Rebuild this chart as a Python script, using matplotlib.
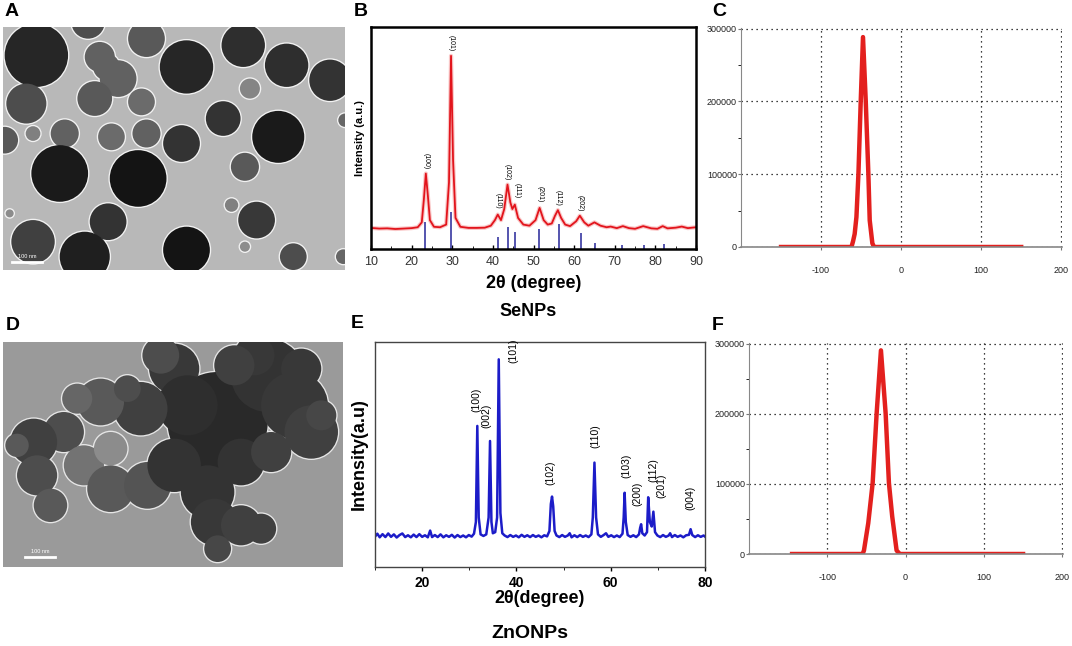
import matplotlib
matplotlib.use("Agg")
import matplotlib.pyplot as plt
from matplotlib.patches import Circle

# ---------------- DATA ----------------
# Panel A (TEM SeNPs): particle centres / radii (image pixel units) and grey level
A_cx = [100, 255, 430, 550, 720, 850, 980, 740, 70, 290, 345, 275, 310, 415, 660, 825, 5, 90, 185,
        325, 430, 535, 170, 405, 725, 315, 685, 760, 90, 245, 550, 870, 1020, 725, 20, 1025]
A_cy = [85, -15, 35, 120, 55, 115, 160, 185, 230, 90, 155, 215, 120, 225, 275, 330, 340, 320, 320,
        330, 320, 350, 440, 455, 420, 585, 535, 580, 645, 690, 670, 690, 690, 660, 560, 280]
A_r = [95, 50, 55, 80, 65, 65, 62, 30, 60, 45, 55, 52, 40, 40, 52, 78, 40, 22, 42,
       40, 42, 55, 85, 85, 42, 55, 20, 55, 65, 75, 70, 40, 22, 15, 12, 20]
A_gray = [0.15, 0.30, 0.35, 0.15, 0.18, 0.18, 0.20, 0.52, 0.30, 0.38, 0.38, 0.35, 0.38, 0.42, 0.20, 0.10, 0.35, 0.50, 0.38,
          0.42, 0.38, 0.20, 0.10, 0.08, 0.35, 0.20, 0.50, 0.22, 0.25, 0.12, 0.08, 0.30, 0.40, 0.55, 0.55, 0.40]

# Panel D (TEM ZnONPs): aggregate grains
D_cx = [642, 792, 872, 922, 512, 472, 552, 412, 292, 222, 182, 92, 42, 102, 142, 242, 322, 322, 432,
        512, 612, 632, 712, 772, 642, 712, 802, 952, 752, 892, 692, 372]
D_cy = [240, 100, 190, 270, 80, 40, 190, 200, 180, 170, 270, 300, 310, 400, 490, 370, 320, 440, 430,
        370, 450, 540, 550, 560, 620, 360, 330, 220, 40, 80, 70, 140]
D_r = [150, 110, 100, 80, 75, 55, 90, 80, 70, 45, 60, 70, 35, 60, 50, 60, 50, 70, 70,
       80, 80, 70, 60, 45, 40, 70, 60, 45, 60, 60, 60, 40]
D_gray = [0.16, 0.20, 0.22, 0.25, 0.22, 0.30, 0.18, 0.25, 0.35, 0.40, 0.30, 0.25, 0.35, 0.30, 0.35, 0.45, 0.55, 0.35, 0.33,
          0.20, 0.20, 0.22, 0.25, 0.25, 0.28, 0.20, 0.25, 0.28, 0.22, 0.22, 0.25, 0.30]

# Panel B: XRD SeNPs (red pattern) and reference sticks
B_x = [10, 12, 14, 16, 18, 20, 21.5, 22.5, 23, 23.5, 24, 24.5, 25.5, 27, 28.5, 29.2, 29.7, 30.2, 30.8,
       32, 34, 36, 38, 39.5, 40.5, 41.2, 42, 42.8, 43.6, 44.3, 44.8, 45.4, 46.2, 47.5, 49, 50.5, 51.5,
       52.5, 53.5, 54.5, 55.3, 56, 56.8, 57.8, 59, 60.5, 61.4, 62.5, 63.5, 65, 66.5, 68, 69, 70.5, 72,
       73.5, 75, 77, 79, 80.5, 81.8, 83, 85, 86.5, 88, 90]
B_y = [9.5, 9.2, 9.3, 9.0, 9.2, 9.4, 9.8, 12, 22, 34, 24, 13, 10, 9.8, 11, 30, 87, 40, 14,
       10, 9.5, 9.5, 9.6, 10.5, 13, 15.5, 13, 18, 29, 21, 18, 20, 14, 11, 10.5, 13, 18.5,
       13, 11, 11.5, 15, 17.5, 14, 11, 10.3, 12.5, 15, 12, 10.5, 12, 10.5, 9.8, 10.1, 9.4, 10.3,
       9.4, 9.1, 10.3, 9.3, 9.1, 10.3, 9.3, 9.6, 10.1, 9.4, 9.8]
B_stick_x = [23.4, 29.7, 41.3, 43.6, 45.4, 51.3, 56.2, 61.6, 65.2, 71.8, 77.2, 82.1]
B_stick_h = [12, 16.7, 5.4, 10, 7.5, 9, 11.4, 7.2, 2.7, 1.7, 2.0, 2.3]
B_lab_x = [23.5, 29.8, 41.3, 43.6, 46.0, 51.6, 56.0, 61.5]
B_lab_y = [36, 89, 18, 31, 23, 21, 19.5, 17]
B_labels = ["(100)", "(101)", "(110)", "(102)", "(111)", "(201)", "(112)", "(202)"]

# Panel E: XRD ZnONPs
E_x = [10, 10.5, 11, 11.6, 12.2, 12.8, 13.4, 14, 14.6, 15.2, 15.8, 16.4, 17, 17.6, 18.2, 18.8, 19.4, 20,
       20.6, 21.2, 21.7, 22.1, 22.7, 23.3, 23.9, 24.5, 25.1, 25.7, 26.3, 26.9, 27.5, 28.1, 28.7, 29.3,
       29.9, 30.5, 31.0, 31.4, 31.7, 32.0, 32.4, 33.0, 33.6, 34.1, 34.4, 34.7, 35.0, 35.5, 35.9, 36.25,
       36.6, 37.0, 37.5, 38.1, 38.7, 39.3, 39.9, 40.5, 41.1, 41.7, 42.3, 42.9, 43.5, 44.1, 44.7, 45.3,
       45.9, 46.5, 47.0, 47.3, 47.55, 47.8, 48.1, 48.5, 49.1, 49.7, 50.3, 50.9, 51.3, 51.7, 52.3, 52.9,
       53.5, 54.1, 54.7, 55.3, 55.9, 56.2, 56.55, 56.9, 57.3, 57.9, 58.5, 59.0, 59.5, 60.1, 60.7, 61.3,
       61.9, 62.5, 62.75, 62.95, 63.2, 63.6, 64.2, 64.8, 65.4, 66.0, 66.25, 66.45, 66.7, 67.2, 67.7,
       67.95, 68.3, 68.7, 69.05, 69.4, 69.9, 70.5, 71.1, 71.7, 72.3, 72.6, 73.0, 73.6, 74.2, 74.8, 75.4,
       76.0, 76.6, 76.95, 77.3, 77.9, 78.5, 79.1, 79.7, 80]
E_y = [13.5, 14.8, 13.2, 14.6, 13.3, 14.9, 13.4, 14.5, 13.1, 14.2, 14.9, 13.3, 14.1, 13.2, 14.4, 13.3, 14.6, 13.4,
       14.1, 13.2, 16.2, 13.3, 14.2, 13.3, 14.5, 13.2, 14.1, 13.4, 14.3, 13.1, 14.2, 13.3, 14.0, 13.2,
       14.2, 13.5, 14.8, 20, 62.7, 22, 14.5, 13.8, 14.5, 22, 56, 20, 15, 15.5, 22, 92.3,
       24, 15, 14.0, 13.3, 14.2, 13.4, 14.0, 13.2, 14.3, 13.4, 14.1, 13.3, 14.2, 13.4, 14.0, 13.2,
       14.1, 13.6, 16, 28, 31.3, 27, 16, 14, 13.3, 14.2, 13.4, 14.0, 15.0, 13.2, 14.1, 13.3,
       14.2, 13.4, 14.0, 13.3, 14.5, 22, 46.4, 22, 14.5, 13.4, 14.2, 15.0, 13.4, 14.1, 13.3, 14.0,
       13.3, 14.8, 22, 33, 20, 14.2, 13.4, 14.1, 13.3, 14.5, 17.5, 19, 15, 14.0, 15.5,
       31, 20, 18, 24.6, 15.5, 14.0, 13.3, 14.2, 13.4, 14.0, 15.0, 13.3, 14.2, 13.4, 14.0, 13.2,
       14.1, 14.3, 16.8, 14.2, 13.3, 14.1, 13.4, 14.0, 13.5]
E_lab_x = [31.6, 33.7, 39.3, 47.1, 56.7, 63.4, 65.7, 69.0, 70.8, 76.8]
E_lab_y = [69, 62, 90.5, 36.5, 53, 39.7, 27, 38, 30.5, 25.5]
E_labels = ["(100)", "(002)", "(101)", "(102)", "(110)", "(103)", "(200)", "(112)", "(201)", "(004)"]

# Panels C and F: zeta potential distributions
C_x = [-150, -62, -60, -58, -55.8, -53.3, -50.4, -47.6, -44.2, -40.9, -39.2, -35.9, -33.7, 150]
C_y = [0, 0, 8000, 18000, 41200, 100800, 201500, 288500, 201500, 100800, 36600, 5000, 0, 0]
F_x = [-145, -55, -53.2, -47.7, -42.1, -37, -31.5, -25.5, -21.3, -17.1, -11.5, -7.3, 150]
F_y = [0, 0, 5000, 44000, 101000, 200500, 290500, 200500, 101000, 53500, 5000, 0, 0]
Z_xticks = [-100, 0, 100, 200]
Z_yticks = [0, 100000, 200000, 300000]

# ---------------- FIGURE ----------------
W, H = 1072, 646
fig = plt.figure(figsize=(W / 100, H / 100), dpi=100)
plt.rcParams['font.family'] = ['Liberation Sans', 'DejaVu Sans']


def px_axes(l, t, r, b):
    return fig.add_axes([l / W, 1 - b / H, (r - l) / W, (b - t) / H])


def tem(ax, cx, cy, r, g, w, h, bg, rim):
    ax.set_facecolor(bg)
    for x, y, rr in zip(cx, cy, r):
        ax.add_patch(Circle((x, y), rr + 4, color=rim, lw=0))
    for x, y, rr, gg in zip(cx, cy, r, g):
        ax.add_patch(Circle((x, y), rr, color=str(gg), lw=0))
    ax.set_xlim(0, w)
    ax.set_ylim(h, 0)
    ax.set_xticks([])
    ax.set_yticks([])
    for s in ax.spines.values():
        s.set_visible(False)


# Panel A
axA = px_axes(3, 27, 345, 270)
tem(axA, A_cx, A_cy, A_r, A_gray, 1025, 730, '#b8b8b8', '#f2f2f2')
axA.plot([28, 118], [705, 705], color='white', lw=2)
axA.text(73, 697, '100 nm', color='white', fontsize=4, ha='center', va='bottom')

# Panel D
axD = px_axes(3, 342, 343, 567)
tem(axD, D_cx, D_cy, D_r, D_gray, 1017, 675, '#9a9a9a', '#e6e6e6')
axD.plot([67, 157], [645, 645], color='white', lw=2)
axD.text(112, 637, '100 nm', color='white', fontsize=4, ha='center', va='bottom')

# Panel B
axB = px_axes(371, 27, 696, 249)
axB.plot(B_x, B_y, color='#f06060', lw=3, alpha=0.35)
axB.plot(B_x, B_y, color='#e2141c', lw=1.3)
axB.vlines(B_stick_x, 0, B_stick_h, color='#4646a8', lw=1.3)
for x, y, t in zip(B_lab_x, B_lab_y, B_labels):
    axB.text(x, y, t, rotation=270, fontsize=5, ha='center', va='bottom')
axB.set_xlim(10, 90)
axB.set_ylim(0, 100)
axB.set_yticks([])
axB.set_xticks(range(10, 91, 10))
axB.set_xticks(range(15, 90, 10), minor=True)
axB.tick_params(axis='x', direction='in', labelsize=9, length=3, width=1, labelcolor='#333333', pad=5)
axB.tick_params(axis='x', which='minor', direction='in', length=2)
for s in axB.spines.values():
    s.set_linewidth(1.8)
axB.set_ylabel('Intensity (a.u.)', fontsize=8, fontweight='bold', labelpad=4)
axB.set_xlabel('2θ (degree)', fontsize=13, fontweight='bold', labelpad=5)
fig.text(528 / W, 1 - 311 / H, 'SeNPs', fontsize=13, fontweight='bold', ha='center', va='center')

# Panel E
axE = px_axes(375, 342, 705, 567)
axE.plot(E_x, E_y, color='#1c1cc8', lw=1.8)
for x, y, t in zip(E_lab_x, E_lab_y, E_labels):
    axE.text(x, y, t, rotation=90, fontsize=7.5, ha='center', va='bottom')
axE.set_xlim(10, 80)
axE.set_ylim(0, 100)
axE.set_yticks([])
axE.set_xticks([20, 40, 60, 80])
axE.set_xticks([10, 30, 50, 70], minor=True)
axE.tick_params(axis='x', labelsize=10, length=3, width=1)
axE.tick_params(axis='x', which='minor', length=2)
for lab in axE.get_xticklabels():
    lab.set_fontweight('bold')
for s in axE.spines.values():
    s.set_linewidth(1.0)
    s.set_color('#444444')
axE.set_ylabel('Intensity(a.u)', fontsize=13, fontweight='bold', labelpad=5)
axE.set_xlabel('2θ(degree)', fontsize=13, fontweight='bold', labelpad=0)
fig.text(530 / W, 1 - 634 / H, 'ZnONPs', fontsize=14, fontweight='bold', ha='center', va='center')


def zeta(ax, xs, ys):
    ax.plot(xs, ys, color='#e3201e', lw=3.2, solid_joinstyle='round')
    ax.set_xlim(-200, 201)
    ax.set_ylim(0, 301000)
    ax.set_xticks(Z_xticks)
    ax.set_yticks(Z_yticks)
    ax.set_xticklabels([str(v) for v in Z_xticks])
    ax.set_yticklabels([str(v) for v in Z_yticks])
    ax.set_yticks([50000, 150000, 250000], minor=True)
    ax.tick_params(axis='both', labelsize=6.5, length=2, color='#777777', labelcolor='#222222')
    ax.tick_params(axis='y', pad=1)
    ax.tick_params(axis='x', pad=12)
    ax.tick_params(axis='y', which='minor', length=2)
    ax.grid(True, color='black', linestyle=(0, (1, 3)), lw=0.9)
    ax.spines['top'].set_visible(False)
    ax.spines['right'].set_visible(False)
    ax.spines['left'].set_color('#888888')
    ax.spines['bottom'].set_color('#888888')
    ax.spines['bottom'].set_linewidth(1.2)
    ax.set_axisbelow(True)


axC = px_axes(741, 28, 1062, 247)
zeta(axC, C_x, C_y)
axF = px_axes(749, 343, 1063, 554)
zeta(axF, F_x, F_y)

# panel letters
for t, x, y in [('A', 12, 12), ('B', 361, 12), ('C', 719, 12), ('D', 13, 325), ('E', 357, 323), ('F', 718, 325)]:
    fig.text(x / W, 1 - y / H, t, fontsize=14, fontweight='bold', ha='center', va='center')

fig.savefig('out.png', dpi=100, facecolor='white')
